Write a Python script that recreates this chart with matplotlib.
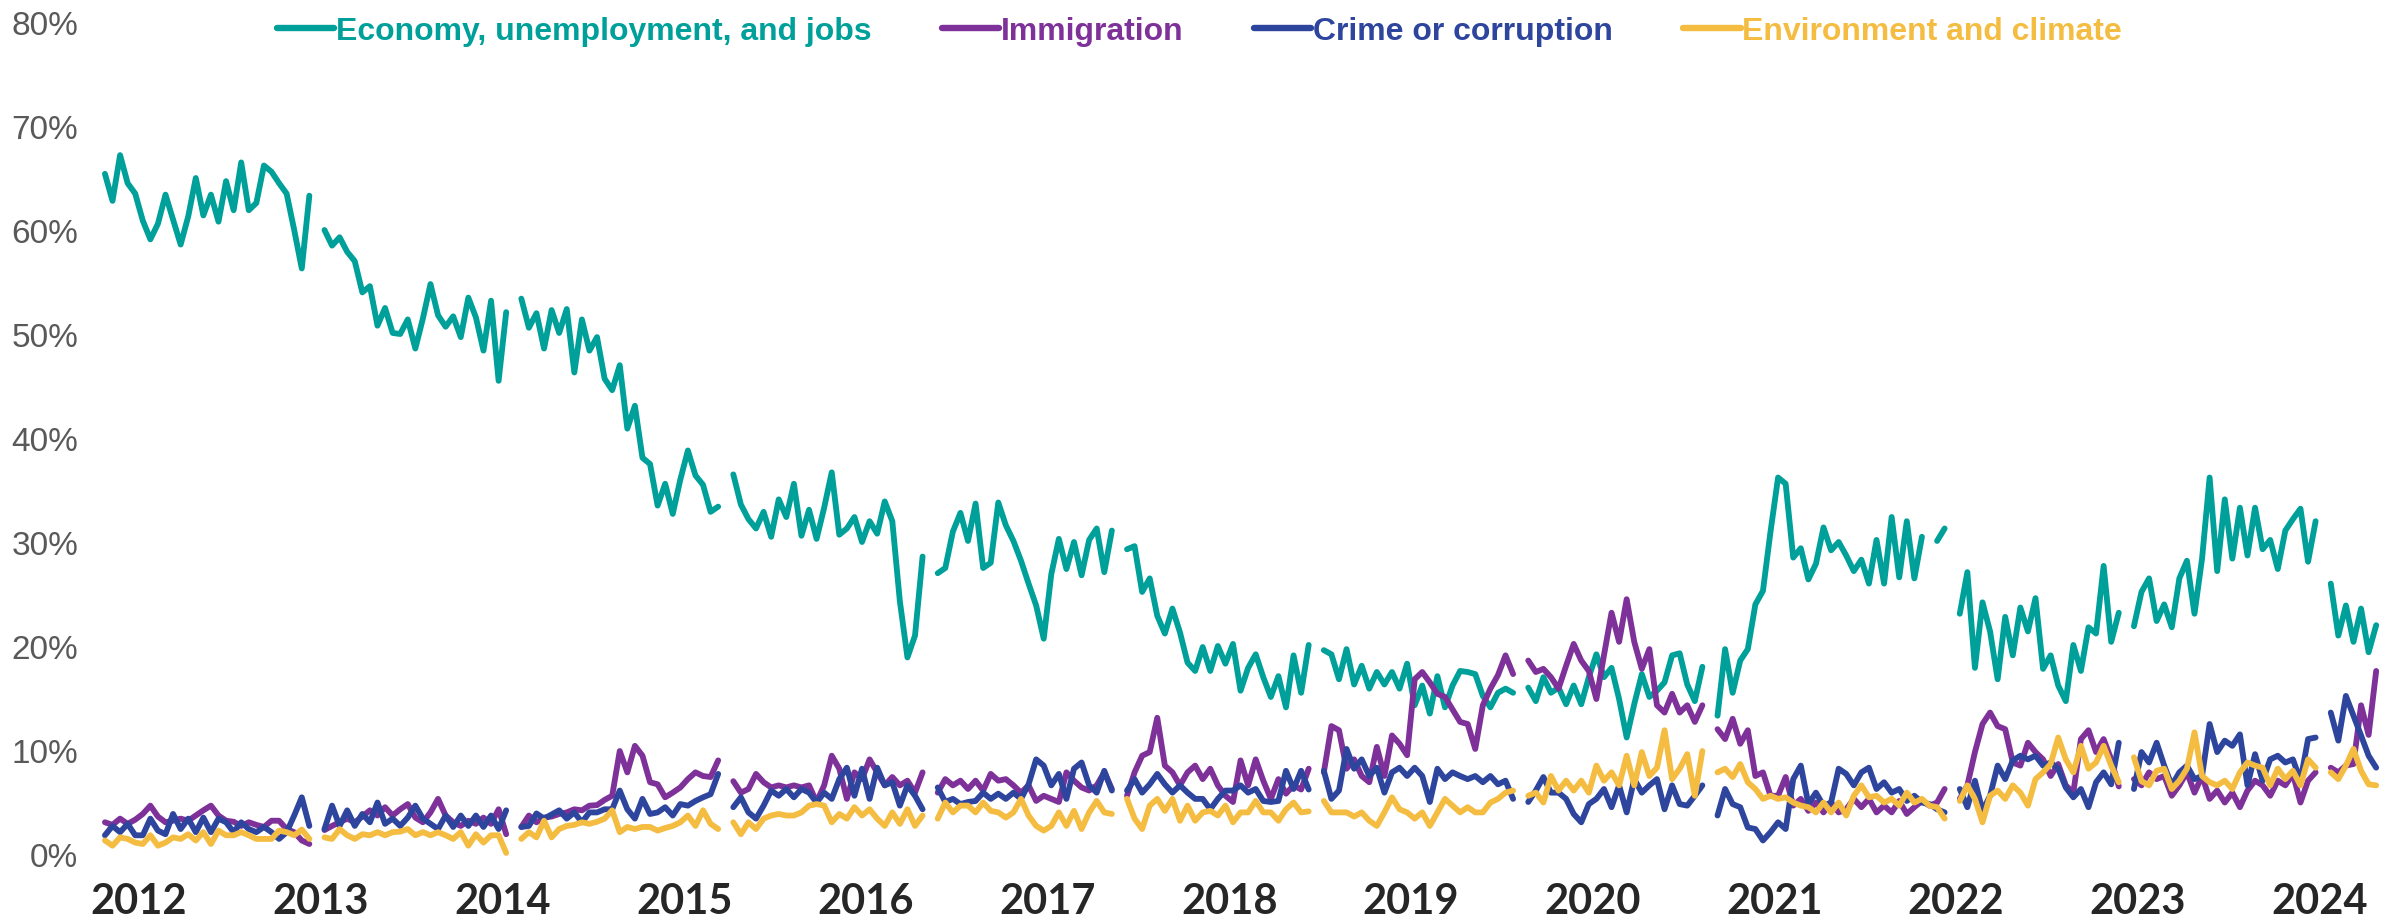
import numpy as np
import matplotlib
matplotlib.use("Agg")
import matplotlib.pyplot as plt

# half-month slots, late Oct 2011 .. Apr 2024 (None = no survey)
DATES = 2011 + (np.arange(301) + 19.5) / 24
YEARS = list(range(2012, 2025))

ECONOMY = [
    65.4, 62.8, 67.2, 64.5, 63.5,
    60.9, 59.1, 60.6, 63.4, 61.0, 58.6, 61.3, 65.0, 61.4, 63.4, 60.8, 64.7, 61.9, 66.5, 61.9, 62.6, 66.2, 65.6, 64.5, 63.5, 60.0, 56.3, 63.3, None,
    60.0, 58.5, 59.3, 57.9, 57.0, 54.0, 54.6, 50.8, 52.5, 50.1, 50.0, 51.4, 48.6, 51.5, 54.8, 51.8, 50.7, 51.7, 49.7, 53.5, 51.6, 48.4, 53.2, 45.5,
    52.1, None, 53.4, 50.6, 52.0, 48.6, 52.3, 50.1, 52.4, 46.3, 51.4, 48.4, 49.7, 45.7, 44.6, 47.0, 40.9, 43.1, 38.1, 37.5, 33.5, 35.6, 32.7, 36.0,
    38.8, 36.4, 35.5, 32.9, 33.4, None, 36.5, 33.6, 32.2, 31.3, 32.9, 30.5, 34.1, 32.4, 35.6, 30.6, 33.1, 30.3, 33.3, 36.7, 30.7, 31.3, 32.4, 30.0,
    32.0, 30.8, 33.9, 32.0, 24.3, 18.9, 21.0, 28.6, None, 27.0, 27.5, 31.0, 32.8, 30.1, 33.7, 27.5, 28.0, 33.8, 31.6, 30.1, 28.2, 26.0, 23.9, 20.7,
    26.9, 30.3, 27.4, 30.0, 26.8, 30.2, 31.3, 27.1, 31.1, None, 29.3, 29.6, 25.2, 26.5, 22.9, 21.2, 23.6, 21.3, 18.4, 17.6, 19.9, 17.6, 20.0, 18.3,
    20.2, 15.7, 17.9, 19.2, 17.0, 15.1, 17.1, 14.1, 19.1, 15.5, 20.1, None, 19.6, 19.2, 16.8, 19.7, 16.3, 18.1, 15.9, 17.5, 16.3, 17.5, 15.9, 18.3,
    14.3, 16.2, 13.5, 17.1, 14.1, 16.2, 17.6, 17.5, 17.3, 15.2, 14.1, 15.5, 15.9, 15.5, None, 16.0, 14.7, 17.0, 15.5, 16.0, 14.4, 16.2, 14.4, 17.0,
    19.2, 17.0, 17.9, 14.9, 11.2, 14.4, 17.3, 15.1, 15.7, 16.5, 19.1, 19.3, 16.3, 14.7, 18.0, None, 13.3, 19.7, 15.5, 18.6, 19.7, 24.0, 25.3, 31.0,
    36.2, 35.6, 28.5, 29.4, 26.4, 27.9, 31.4, 29.2, 30.0, 28.7, 27.2, 28.3, 26.0, 30.2, 26.0, 32.4, 26.6, 32.0, 26.5, 30.5, None, 30.1, 31.3, None,
    23.1, 27.1, 17.9, 24.2, 21.4, 16.8, 22.8, 19.1, 23.7, 21.4, 24.6, 17.8, 19.1, 16.2, 14.7, 20.1, 17.6, 21.8, 21.2, 27.7, 20.4, 23.2, None, 21.9,
    25.2, 26.5, 22.4, 24.0, 21.8, 26.5, 28.2, 23.1, 28.4, 36.2, 27.2, 34.1, 28.4, 33.3, 28.7, 33.3, 29.3, 30.2, 27.4, 31.1, 32.2, 33.2, 28.1, 32.0,
    None, 26.0, 21.0, 23.9, 20.4, 23.6, 19.4, 22.0,
]

IMMIGRATION = [
    3.05, 2.8, 3.4, 2.9, 3.3,
    3.85, 4.65, 3.6, 3.05, 3.2, 3.4, 3.2, 3.7, 4.2, 4.65, 3.7, 3.2, 3.1, 2.7, 3.05, 2.8, 2.6, 3.2, 3.2, 2.4, 2.1, 1.3, 0.96, None,
    2.3, 2.7, 3.05, 3.4, 3.05, 3.6, 4.2, 3.7, 4.5, 3.7, 4.3, 4.8, 3.5, 3.05, 4.0, 5.3, 3.7, 3.05, 2.7, 3.2, 2.9, 3.5, 2.9, 4.3,
    1.9, None, 2.6, 3.7, 3.05, 3.5, 3.6, 3.85, 4.0, 4.3, 4.2, 4.65, 4.7, 5.2, 5.6, 9.9, 7.85, 10.4, 9.45, 6.9, 6.7, 5.45, 5.9, 6.4,
    7.2, 7.85, 7.5, 7.4, 9.0, None, 7.0, 5.9, 6.25, 7.7, 6.9, 6.4, 6.6, 6.4, 6.6, 6.4, 6.6, 5.0, 6.6, 9.45, 8.2, 5.3, 7.85, 7.2,
    9.1, 7.85, 6.6, 7.4, 6.6, 7.05, 5.9, 7.85, None, 5.9, 7.2, 6.6, 7.05, 6.25, 7.05, 6.1, 7.7, 7.05, 7.2, 6.6, 5.9, 6.6, 5.1, 5.6,
    5.3, 5.0, 7.85, 7.05, 6.4, 6.1, 6.6, 7.85, 6.25, None, 5.6, 7.85, 9.45, 9.8, 13.1, 8.5, 7.85, 6.6, 7.85, 8.5, 7.2, 8.2, 6.6, 5.6,
    5.0, 9.0, 6.6, 9.1, 7.05, 5.3, 7.2, 5.8, 6.6, 6.2, 8.2, None, 7.85, 12.3, 11.9, 8.2, 9.1, 7.5, 6.9, 10.3, 7.5, 11.4, 10.6, 9.5,
    16.8, 17.5, 16.5, 15.4, 15.1, 13.9, 12.7, 12.5, 10.1, 14.3, 15.9, 17.2, 19.1, 17.3, None, 18.6, 17.5, 17.8, 17.0, 15.9, 18.1, 20.2, 18.6, 17.6,
    14.9, 19.1, 23.2, 20.4, 24.5, 20.4, 17.8, 19.7, 14.3, 13.6, 15.4, 13.6, 14.3, 12.7, 14.3, None, 12.0, 11.05, 13.0, 10.6, 11.9, 7.5, 7.85, 5.6,
    5.6, 7.4, 4.65, 5.3, 4.15, 4.95, 4.0, 4.95, 4.0, 4.3, 5.3, 4.5, 5.3, 4.0, 4.65, 4.0, 5.1, 3.85, 4.5, 5.1, 4.65, 4.95, 6.25, None,
    5.3, 6.6, 9.8, 12.5, 13.6, 12.3, 12.0, 8.8, 8.5, 10.7, 9.8, 9.1, 7.5, 8.65, 6.6, 5.9, 11.05, 11.9, 9.8, 11.05, 9.1, 6.5, None, 7.2,
    6.6, 7.85, 7.2, 7.5, 5.6, 6.6, 7.85, 5.9, 7.5, 5.3, 6.1, 4.95, 5.9, 4.5, 6.1, 7.05, 6.6, 5.6, 7.05, 6.6, 7.7, 4.95, 7.05, 7.85,
    None, 8.3, 7.85, 8.5, 8.65, 14.3, 11.45, 17.6,
]

CRIME = [
    1.8, 2.7, 2.1, 2.9, 1.8,
    1.8, 3.4, 2.25, 1.9, 3.85, 2.4, 3.4, 2.1, 3.5, 2.1, 3.4, 3.05, 2.1, 3.05, 2.4, 2.1, 2.6, 2.1, 1.45, 2.1, 3.7, 5.45, 2.7, None,
    2.4, 4.65, 2.7, 4.2, 2.7, 3.85, 3.05, 4.95, 2.9, 3.4, 2.7, 3.5, 4.65, 3.4, 2.9, 2.4, 3.7, 2.6, 3.7, 2.7, 3.7, 2.6, 3.7, 2.4,
    4.2, None, 2.6, 2.7, 3.9, 3.4, 3.8, 4.2, 3.4, 4.0, 3.05, 4.0, 4.0, 4.3, 4.3, 6.1, 4.3, 3.4, 5.3, 3.85, 4.0, 4.5, 3.7, 4.8,
    4.65, 5.1, 5.45, 5.75, 7.7, None, 4.5, 5.45, 4.0, 3.4, 4.65, 6.1, 5.6, 6.25, 5.45, 6.25, 5.9, 4.95, 5.9, 5.3, 7.2, 8.3, 5.6, 8.2,
    5.3, 8.3, 6.6, 6.9, 4.65, 6.6, 5.6, 4.3, None, 6.4, 5.0, 5.3, 4.8, 5.0, 5.1, 5.9, 5.3, 5.8, 5.3, 5.9, 5.3, 6.7, 9.1, 8.5,
    6.6, 7.7, 5.3, 8.2, 8.8, 6.6, 5.9, 8.0, 6.1, None, 6.1, 7.2, 5.9, 6.7, 7.7, 6.7, 5.9, 6.6, 5.9, 5.3, 5.3, 4.3, 5.3, 6.1,
    6.1, 6.6, 5.9, 6.25, 5.1, 5.0, 5.1, 8.0, 6.25, 8.0, 6.2, None, 8.0, 5.3, 6.1, 10.1, 8.2, 9.1, 7.5, 8.3, 5.9, 7.85, 8.3, 7.5,
    8.3, 7.5, 5.0, 8.2, 7.2, 7.85, 7.5, 7.2, 7.5, 6.9, 7.5, 6.7, 7.05, 5.3, None, 5.0, 6.1, 7.4, 5.9, 5.9, 5.3, 3.85, 3.05, 4.8,
    5.3, 6.25, 4.5, 6.6, 4.0, 7.2, 5.9, 6.6, 7.2, 4.3, 6.6, 4.8, 4.65, 5.6, 6.6, None, 3.7, 6.25, 4.8, 4.5, 2.55, 2.4, 1.3, 2.1,
    3.05, 2.4, 7.2, 8.5, 4.8, 5.9, 4.65, 4.95, 8.2, 7.7, 6.6, 7.85, 8.3, 6.25, 6.9, 5.9, 6.25, 5.1, 5.6, 4.95, 4.8, 4.3, 4.0, None,
    6.25, 4.5, 7.05, 4.15, 5.6, 8.5, 7.2, 9.0, 9.45, 9.1, 9.45, 8.5, 8.8, 8.2, 6.4, 5.45, 6.25, 4.5, 6.9, 7.85, 6.7, 10.7, None, 6.25,
    9.8, 8.8, 10.7, 8.5, 6.6, 7.85, 8.5, 7.2, 7.5, 12.5, 9.8, 10.9, 10.4, 11.5, 6.6, 9.6, 7.05, 9.1, 9.45, 8.8, 9.1, 7.05, 11.05, 11.2,
    None, 13.6, 10.9, 15.2, 13.3, 11.4, 9.45, 8.3,
]

ENVIRONMENT = [
    1.3, 0.8, 1.6, 1.45, 1.1,
    0.96, 1.8, 0.8, 1.1, 1.6, 1.45, 1.9, 1.3, 2.1, 0.96, 2.25, 1.8, 1.8, 2.1, 1.8, 1.45, 1.45, 1.45, 2.25, 2.1, 1.8, 2.35, 1.45, None,
    1.6, 1.45, 2.4, 1.8, 1.45, 1.9, 1.8, 2.1, 1.8, 2.1, 2.15, 2.4, 1.8, 2.1, 1.8, 2.1, 1.8, 1.45, 2.1, 0.8, 1.9, 1.1, 1.8, 1.8,
    0.1, None, 1.45, 2.1, 1.6, 3.2, 1.6, 2.4, 2.7, 2.8, 3.05, 2.9, 3.1, 3.4, 4.2, 2.1, 2.6, 2.4, 2.6, 2.6, 2.25, 2.5, 2.7, 3.05,
    3.7, 2.7, 4.2, 2.9, 2.4, None, 3.05, 1.9, 3.05, 2.4, 3.4, 3.7, 3.85, 3.7, 3.7, 4.0, 4.65, 4.8, 4.65, 3.05, 3.85, 3.4, 4.5, 3.7,
    4.3, 3.4, 2.7, 4.0, 2.9, 4.3, 2.7, 3.7, None, 3.4, 4.95, 4.0, 4.65, 4.65, 4.0, 4.95, 4.15, 4.0, 3.5, 4.0, 5.3, 3.7, 2.7, 2.25,
    2.7, 4.0, 2.7, 4.15, 2.4, 4.0, 5.1, 4.0, 3.85, None, 5.3, 3.4, 2.4, 4.65, 5.3, 4.15, 5.3, 3.2, 4.65, 3.2, 4.0, 4.15, 3.7, 4.65,
    3.05, 4.0, 4.0, 5.1, 4.0, 4.0, 3.2, 4.3, 4.95, 4.0, 4.1, None, 5.1, 4.0, 4.0, 4.0, 3.6, 4.0, 3.2, 2.7, 4.0, 5.45, 4.3, 4.0,
    3.4, 4.0, 2.7, 4.0, 5.3, 4.65, 4.0, 4.5, 4.0, 4.0, 4.95, 5.3, 5.9, 6.1, None, 5.6, 5.9, 4.95, 7.5, 6.1, 7.05, 6.1, 7.05, 5.9,
    8.5, 7.05, 7.85, 6.6, 9.45, 6.6, 9.8, 7.5, 8.3, 11.9, 7.2, 8.2, 9.6, 5.6, 9.9, None, 7.85, 8.2, 7.4, 8.65, 6.9, 6.25, 5.3, 5.6,
    5.3, 5.45, 4.95, 4.65, 4.5, 4.0, 4.95, 4.0, 4.95, 3.7, 5.6, 6.6, 5.45, 5.6, 4.95, 5.3, 4.65, 5.9, 4.95, 5.3, 4.65, 4.5, 3.4, None,
    5.1, 6.6, 5.3, 3.05, 5.6, 6.1, 5.3, 6.6, 5.9, 4.65, 7.2, 7.85, 8.65, 11.2, 9.1, 7.85, 10.4, 8.2, 8.8, 10.4, 8.5, 6.9, None, 9.3,
    7.0, 6.6, 8.0, 8.2, 6.25, 7.05, 8.2, 11.7, 7.5, 6.9, 6.6, 7.05, 6.25, 7.85, 8.8, 8.5, 8.3, 6.6, 8.2, 7.2, 8.0, 6.6, 9.1, 8.3,
    None, 7.85, 7.2, 8.5, 10.1, 8.0, 6.7, 6.6,
]

SERIES = [
    ("Economy, unemployment, and jobs", ECONOMY, "#00A09A"),
    ("Immigration", IMMIGRATION, "#7E3199"),
    ("Crime or corruption", CRIME, "#2E459E"),
    ("Environment and climate", ENVIRONMENT, "#F4BD42"),
]

W, H = 2399, 920

fig = plt.figure(figsize=(W / 100, H / 100), dpi=100)
# x: Jan 1 of 2012 at 139 px, 181.7 px per year; y: 0% at 855 px, 10.4 px per point
x0, x1 = 2011.75, 2024.35
left = 139 + (x0 - 2012) * 181.7
right = 139 + (x1 - 2012) * 181.7
bottom = (H - 855) / H
top = (H - (855 - 80 * 10.4)) / H
ax = fig.add_axes([left / W, bottom, (right - left) / W, top - bottom])

for name, vals, col in SERIES:
    ax.plot(DATES, np.array(vals, dtype=float), color=col, lw=4.2, label=name,
            solid_joinstyle="round", solid_capstyle="round", clip_on=False)

ax.set_xlim(x0, x1)
ax.set_ylim(0, 80)
for s in ax.spines.values():
    s.set_visible(False)

ax.set_yticks(range(0, 81, 10))
ax.set_yticklabels([f"{v}%" for v in range(0, 81, 10)],
                   fontfamily="Liberation Sans", fontsize=24, color="#595959")
ax.set_xticks(YEARS)
ax.set_xticklabels([str(y) for y in YEARS], fontfamily="Lato",
                   fontweight="bold", fontsize=30, color="#262626")
ax.tick_params(axis="y", length=0, pad=11)
ax.tick_params(axis="x", length=0, pad=20)

ax.legend(loc="center", bbox_to_anchor=(0.5, 1 - 32 / H),
          bbox_transform=fig.transFigure, ncol=4, frameon=False,
          handlelength=1.8, handletextpad=0.05, columnspacing=2.2,
          borderpad=0, borderaxespad=0, labelcolor="linecolor",
          prop={"family": "Liberation Sans", "weight": "bold", "size": 23})
for h in ax.get_legend().get_lines():
    h.set_linewidth(4.6)

fig.savefig("out.png", dpi=100)
